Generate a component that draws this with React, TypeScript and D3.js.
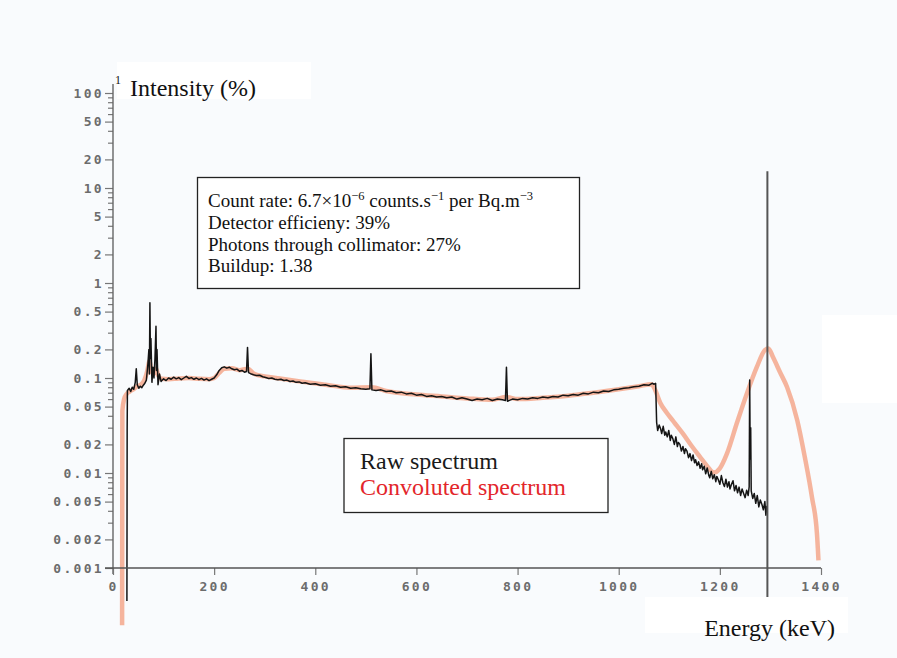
import React, { useEffect, useRef } from "react";
import * as d3 from "d3";

const W = 897;
const H = 658;

// tick values
const yLabelTicks = [100, 50, 20, 10, 5, 2, 1, 0.5, 0.2, 0.1, 0.05, 0.02, 0.01, 0.005, 0.002, 0.001];
const yDecades = [0.001, 0.01, 0.1, 1, 10];
const xTicks = [0, 200, 400, 600, 800, 1000, 1200, 1400];

// raw spectrum [energy keV, intensity %]
const rawSpectrum: [number, number][] = [
  [27.5, 0.00045], [28, 0.028], [28.5, 0.074], [32, 0.078], [35, 0.072], [38, 0.08], [41, 0.076],
  [44, 0.09], [46, 0.125], [48, 0.085], [51, 0.078], [54, 0.082], [57, 0.079], [60, 0.084],
  [63, 0.088], [66, 0.095], [69, 0.14], [71, 0.2], [72, 0.11], [73, 0.62], [74, 0.16], [75, 0.26],
  [77, 0.09], [79, 0.13], [81, 0.1], [83, 0.16], [85, 0.35], [86, 0.12], [87, 0.2], [89, 0.085],
  [92, 0.11], [95, 0.092], [100, 0.098], [105, 0.094], [110, 0.1], [115, 0.097], [120, 0.102],
  [125, 0.098], [130, 0.101], [135, 0.096], [140, 0.1], [145, 0.104], [150, 0.099], [155, 0.101],
  [160, 0.097], [165, 0.1], [170, 0.096], [175, 0.099], [180, 0.095], [185, 0.098], [190, 0.094],
  [195, 0.097], [200, 0.1], [205, 0.108], [210, 0.12], [215, 0.128], [220, 0.131], [225, 0.127],
  [230, 0.13], [235, 0.125], [240, 0.122], [245, 0.124], [250, 0.118], [255, 0.12], [260, 0.115],
  [264, 0.117], [266, 0.21], [268, 0.114], [272, 0.111], [278, 0.108], [284, 0.106], [290, 0.107],
  [296, 0.103], [302, 0.101], [308, 0.099], [314, 0.1], [320, 0.097], [326, 0.096], [332, 0.097],
  [338, 0.094], [344, 0.095], [350, 0.092], [356, 0.093], [362, 0.09], [368, 0.091], [374, 0.088],
  [380, 0.089], [390, 0.086], [400, 0.087], [410, 0.084], [420, 0.085], [430, 0.082], [440, 0.083],
  [450, 0.08], [460, 0.081], [470, 0.078], [480, 0.079], [490, 0.077], [500, 0.076], [508, 0.077],
  [510, 0.18], [512, 0.075], [520, 0.074], [530, 0.075], [540, 0.072], [550, 0.073], [560, 0.07],
  [570, 0.071], [580, 0.068], [590, 0.069], [600, 0.066], [610, 0.067], [620, 0.064], [630, 0.065],
  [640, 0.063], [650, 0.064], [660, 0.062], [670, 0.063], [680, 0.06], [690, 0.062], [700, 0.06],
  [710, 0.058], [720, 0.06], [730, 0.059], [740, 0.061], [750, 0.058], [760, 0.06], [770, 0.059],
  [776, 0.058], [778, 0.13], [780, 0.057], [790, 0.06], [800, 0.059], [810, 0.061], [820, 0.06],
  [830, 0.062], [840, 0.061], [850, 0.063], [860, 0.062], [870, 0.064], [880, 0.063], [890, 0.066],
  [900, 0.065], [910, 0.067], [920, 0.066], [930, 0.069], [940, 0.068], [950, 0.071], [960, 0.07],
  [970, 0.073], [980, 0.072], [990, 0.075], [1000, 0.076], [1010, 0.078], [1020, 0.079],
  [1030, 0.081], [1040, 0.082], [1050, 0.085], [1060, 0.084], [1066, 0.088], [1070, 0.086],
  [1073, 0.088], [1075, 0.034], [1077, 0.028], [1080, 0.032], [1083, 0.029], [1085, 0.026],
  [1088, 0.031], [1091, 0.025], [1093, 0.027], [1096, 0.024], [1099, 0.028], [1102, 0.022],
  [1104, 0.025], [1107, 0.023], [1110, 0.02], [1113, 0.024], [1116, 0.019], [1118, 0.021],
  [1121, 0.02], [1124, 0.017], [1127, 0.019], [1130, 0.016], [1132, 0.018], [1135, 0.017],
  [1138, 0.0145], [1141, 0.016], [1144, 0.0135], [1147, 0.0155], [1150, 0.0128], [1152, 0.0138],
  [1155, 0.012], [1158, 0.0131], [1161, 0.0112], [1164, 0.0125], [1166, 0.0108], [1169, 0.0118],
  [1172, 0.0098], [1175, 0.0113], [1178, 0.0095], [1180, 0.0089], [1183, 0.0104], [1186, 0.0087],
  [1189, 0.0096], [1192, 0.0081], [1194, 0.0092], [1197, 0.0085], [1200, 0.0076], [1203, 0.0094],
  [1206, 0.0079], [1209, 0.0072], [1212, 0.0086], [1215, 0.0071], [1218, 0.0081], [1220, 0.0068],
  [1223, 0.0076], [1226, 0.0083], [1229, 0.0065], [1232, 0.0074], [1235, 0.0062], [1238, 0.0071],
  [1241, 0.0058], [1244, 0.0068], [1247, 0.0061], [1250, 0.0055], [1253, 0.0066], [1256, 0.0058],
  [1258, 0.0072], [1259, 0.095], [1260, 0.014], [1261, 0.03], [1262, 0.0065], [1265, 0.0054],
  [1268, 0.0061], [1271, 0.0048], [1274, 0.0058], [1277, 0.0044], [1280, 0.0052], [1283, 0.0047],
  [1286, 0.0041], [1289, 0.005], [1291, 0.0036], [1293, 0.0045],
];

// convoluted spectrum [energy keV, intensity %]
const convolutedSpectrum: [number, number][] = [
  [18, 0.00025], [18.5, 0.045], [22, 0.06], [27, 0.068], [33, 0.072], [40, 0.076], [48, 0.082],
  [55, 0.085], [62, 0.095], [68, 0.12], [72, 0.15], [76, 0.12], [80, 0.11], [85, 0.125],
  [90, 0.105], [96, 0.098], [110, 0.097], [130, 0.099], [150, 0.1], [170, 0.098], [190, 0.097],
  [200, 0.1], [210, 0.113], [220, 0.125], [235, 0.127], [250, 0.121], [266, 0.125], [280, 0.11],
  [300, 0.104], [330, 0.099], [370, 0.092], [420, 0.085], [470, 0.079], [512, 0.08], [540, 0.073],
  [600, 0.067], [650, 0.064], [700, 0.061], [750, 0.059], [778, 0.063], [800, 0.06], [850, 0.062],
  [900, 0.065], [950, 0.07], [1000, 0.076], [1040, 0.082], [1065, 0.086], [1072, 0.075],
  [1082, 0.055], [1095, 0.043], [1110, 0.034], [1127, 0.026], [1145, 0.019], [1161, 0.0147],
  [1175, 0.0118], [1188, 0.0101], [1200, 0.0112], [1214, 0.016], [1234, 0.034], [1254, 0.07],
  [1273, 0.13], [1289, 0.197], [1296, 0.205], [1305, 0.166], [1319, 0.115], [1333, 0.08],
  [1353, 0.036], [1368, 0.0147], [1382, 0.0056], [1392, 0.0023], [1395, 0.0012],
];

// Ar-41 line
const peakEnergy = 1294;
const peakIntensity = 15;

const countRateParts: [string, boolean][] = [
  ["Count rate: 6.7×10", false], ["−6", true], [" counts.s", false], ["−1", true],
  [" per Bq.m", false], ["−3", true],
];
const infoLines = ["Detector efficieny: 39%", "Photons through collimator: 27%", "Buildup: 1.38"];
const legendLabels = ["Raw spectrum", "Convoluted spectrum"];
const legendColors = ["#1a1a1a", "#e3262b"];

const serif = "'Liberation Serif', 'Times New Roman', serif";
const tickFont = "'DejaVu Sans Mono', monospace";

export default function App() {
  const ref = useRef<SVGSVGElement>(null);

  useEffect(() => {
    const svg = d3.select(ref.current);
    svg.selectAll("*").remove();

    const x = d3.scaleLinear().domain([0, 1400]).range([113, 821]);
    const y = d3.scaleLog().domain([0.001, 100]).range([568, 93]);

    svg.append("rect").attr("width", W).attr("height", H).attr("fill", "#f9fbfd");
    // white patches from the original figure
    svg.append("rect").attr("x", 117).attr("y", 62).attr("width", 194).attr("height", 37).attr("fill", "#fff");
    svg.append("rect").attr("x", 822).attr("y", 315).attr("width", 75).attr("height", 88).attr("fill", "#fff");

    // info box
    svg.append("rect").attr("x", 197.5).attr("y", 177.5).attr("width", 382).attr("height", 111)
      .attr("fill", "#fff").attr("stroke", "#222").attr("stroke-width", 1.3);
    const t1 = svg.append("text").attr("x", 208).attr("y", 207)
      .attr("font-family", serif).attr("font-size", 19).attr("fill", "#111");
    countRateParts.forEach(([s, sup], i) => {
      const prevSup = i > 0 && countRateParts[i - 1][1];
      t1.append("tspan").text(s)
        .attr("font-size", sup ? 12.5 : 19)
        .attr("dy", sup ? -7 : prevSup ? 7 : 0);
    });
    infoLines.forEach((s, i) => {
      svg.append("text").attr("x", 208).attr("y", 229 + i * 21.5)
        .attr("font-family", serif).attr("font-size", 19).attr("fill", "#111").text(s);
    });

    // spectra
    const smooth = d3.line<[number, number]>().x(d => x(d[0])).y(d => y(d[1])).curve(d3.curveMonotoneX);
    const straight = d3.line<[number, number]>().x(d => x(d[0])).y(d => y(d[1]));
    svg.append("path")
      .attr("d", smooth(convolutedSpectrum) as string)
      .attr("fill", "none").attr("stroke", "#f4a285").attr("stroke-opacity", 0.8)
      .attr("stroke-width", 4.5).attr("stroke-linejoin", "round");
    svg.append("path")
      .attr("d", straight(rawSpectrum) as string)
      .attr("fill", "none").attr("stroke", "#151515").attr("stroke-width", 1.5)
      .attr("stroke-linejoin", "round");
    svg.append("line")
      .attr("x1", x(peakEnergy)).attr("x2", x(peakEnergy))
      .attr("y1", y(peakIntensity)).attr("y2", 620)
      .attr("stroke", "#555").attr("stroke-width", 2);

    // y axis
    const minorTicks: number[] = [];
    yDecades.forEach(d => {
      for (let m = 1; m < 10; m++) {
        const v = +(d * m).toPrecision(3);
        if (!yLabelTicks.includes(v)) minorTicks.push(v);
      }
    });
    const gyMinor = svg.append("g").attr("transform", "translate(113,0)")
      .call(d3.axisLeft(y).tickValues(minorTicks).tickSize(5).tickSizeOuter(0).tickFormat(() => ""));
    const gy = svg.append("g").attr("transform", "translate(113,0)")
      .call(d3.axisLeft(y).tickValues(yLabelTicks).tickSize(8).tickSizeOuter(0).tickPadding(1)
        .tickFormat(d => String(+d)));
    [gyMinor, gy].forEach(g => {
      g.select(".domain").remove();
      g.selectAll("line").attr("stroke", "#777").attr("stroke-width", 1.2);
    });
    gy.selectAll("text").attr("font-family", tickFont).attr("font-weight", "bold")
      .attr("font-size", 13).attr("letter-spacing", 2.3).attr("fill", "#6c6c6c");
    svg.append("line").attr("x1", 113).attr("x2", 113).attr("y1", 84).attr("y2", 574)
      .attr("stroke", "#666").attr("stroke-width", 1.4);

    // x axis
    const gx = svg.append("g").attr("transform", "translate(0,568)")
      .call(d3.axisBottom(x).tickValues(xTicks).tickSize(7).tickSizeOuter(0).tickPadding(7)
        .tickFormat(d => String(d)));
    gx.select(".domain").remove();
    gx.selectAll("line").attr("stroke", "#777").attr("stroke-width", 1.2);
    gx.selectAll("text").attr("font-family", tickFont).attr("font-weight", "bold")
      .attr("font-size", 13).attr("letter-spacing", 2.3).attr("fill", "#6c6c6c");
    svg.append("line").attr("x1", 105).attr("x2", 821).attr("y1", 568).attr("y2", 568)
      .attr("stroke", "#555").attr("stroke-width", 1.4);

    // legend
    svg.append("rect").attr("x", 344).attr("y", 438.5).attr("width", 264).attr("height", 74)
      .attr("fill", "#fff").attr("stroke", "#222").attr("stroke-width", 1.3);
    legendLabels.forEach((s, i) => {
      svg.append("text").attr("x", 360).attr("y", 469 + i * 26)
        .attr("font-family", serif).attr("font-size", 24).attr("fill", legendColors[i]).text(s);
    });

    // axis titles
    svg.append("rect").attr("x", 645).attr("y", 597).attr("width", 203).attr("height", 36).attr("fill", "#fff");
    svg.append("text").attr("x", 835).attr("y", 636).attr("text-anchor", "end")
      .attr("font-family", serif).attr("font-size", 24).attr("fill", "#111").text("Energy (keV)");
    svg.append("text").attr("x", 130).attr("y", 96)
      .attr("font-family", serif).attr("font-size", 24).attr("fill", "#111").text("Intensity (%)");
    svg.append("text").attr("x", 115).attr("y", 84)
      .attr("font-family", serif).attr("font-size", 12).attr("fill", "#111").text("1");
  }, []);

  return (
    <svg ref={ref} width={W} height={H}
      style={{ position: "absolute", left: 0, top: 0, display: "block" }} />
  );
}
